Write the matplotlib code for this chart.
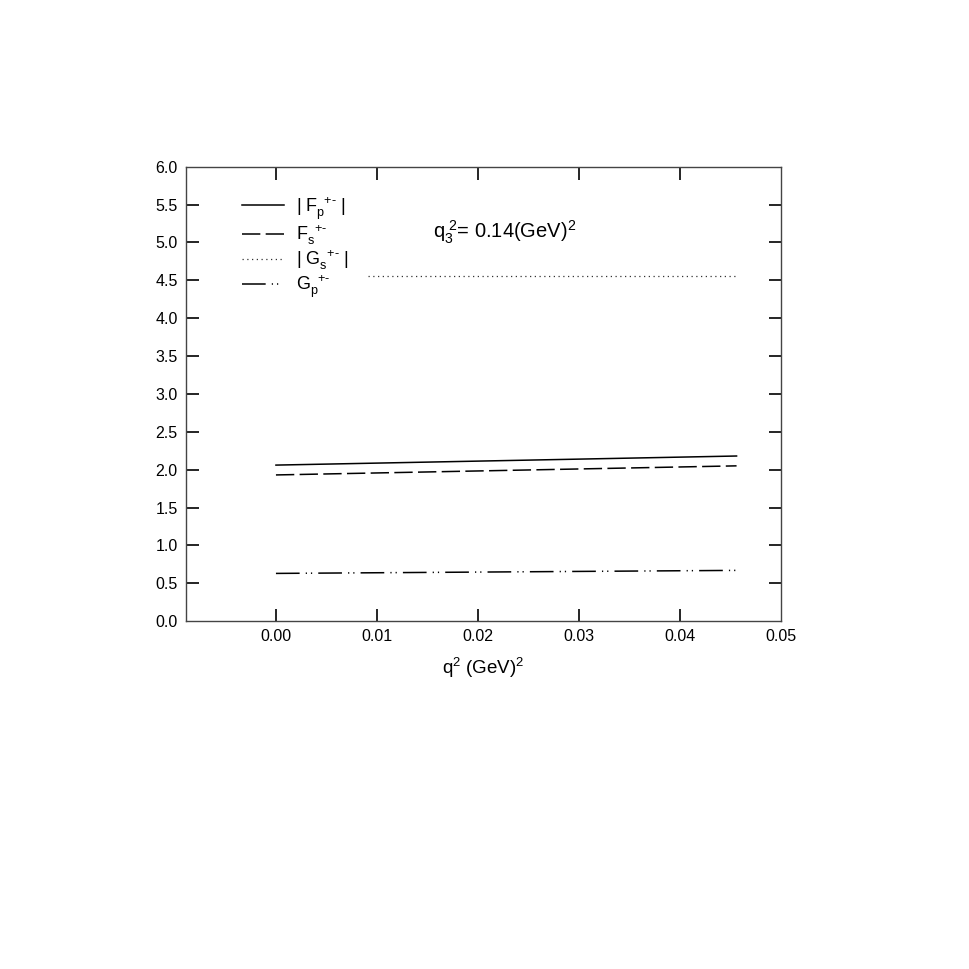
import numpy as np
import matplotlib
matplotlib.use("Agg")
import matplotlib.pyplot as plt

plt.rcParams["font.family"] = ["Liberation Sans", "DejaVu Sans"]
plt.rcParams["mathtext.fontset"] = "custom"
plt.rcParams["mathtext.rm"] = "Liberation Sans"
plt.rcParams["mathtext.it"] = "Liberation Sans"

# data
q2 = [0.0, 0.0228, 0.0456]
fp_abs = [2.06, 2.12, 2.18]
fs = [1.93, 1.99, 2.05]
gp = [0.63, 0.65, 0.67]
q2_gs = [0.0091, 0.0456]
gs_abs = [4.56, 4.56]

sup = r"^{\ \ \mathregular{+\text{-}}}"
labels = [r"| F$_\mathregular{p}" + sup + r"$ |",
          r"F$_\mathregular{s}" + sup + r"$",
          r"| G$_\mathregular{s}" + sup + r"$ |",
          r"G$_\mathregular{p}" + sup + r"$"]
xticks = [0.00, 0.01, 0.02, 0.03, 0.04, 0.05]
yticks = np.arange(0, 6.01, 0.5)

fig = plt.figure(figsize=(9.69, 9.69), dpi=100)
ax = fig.add_axes([0.192, 0.359, 0.614, 0.469])

lw = 1.1
ax.plot(q2, fp_abs, color="black", lw=lw, ls="-", label=labels[0])
ax.plot(q2, fs, color="black", lw=lw, ls=(0, (12, 3.5)), label=labels[1])
ax.plot(q2_gs, gs_abs, color="#333333", lw=0.9, ls=(0, (1, 2.8)), label=labels[2])
ax.plot(q2, gp, color="black", lw=lw,
        ls=(0, (15.5, 4, 0.8, 2.6, 0.8, 4)), label=labels[3])

ax.set_xlim(-0.0089, 0.05)
ax.set_ylim(0, 6.0)
ax.set_xticks(xticks)
ax.set_xticklabels([f"{t:.2f}" for t in xticks])
ax.set_yticks(yticks)
ax.set_yticklabels([f"{t:.1f}" for t in yticks])
ax.tick_params(direction="in", length=9, width=1.2, top=True, right=True,
               labelsize=11.5, pad=6)
# no tick marks in the corners
for t in [ax.xaxis.get_major_ticks()[-1], ax.yaxis.get_major_ticks()[0],
          ax.yaxis.get_major_ticks()[-1]]:
    t.tick1line.set_visible(False)
    t.tick2line.set_visible(False)
for s in ax.spines.values():
    s.set_linewidth(1.0)
    s.set_color("#444444")

ax.set_xlabel(r"q$^\mathregular{2}$ (GeV)$^\mathregular{2}$", fontsize=13.5, labelpad=8)

ax.text(0.415, 0.855, r"q$_\mathregular{3}^{\ \mathregular{2}}$= 0.14(GeV)$^\mathregular{2}$",
        transform=ax.transAxes, fontsize=14.5, va="center", ha="left")

leg = ax.legend(loc="upper left", bbox_to_anchor=(0.085, 0.95), frameon=False,
                handlelength=2.35, handletextpad=0.65, labelspacing=0.08,
                fontsize=13, borderaxespad=0.0, borderpad=0.3)

fig.savefig("out.png", dpi=100)
